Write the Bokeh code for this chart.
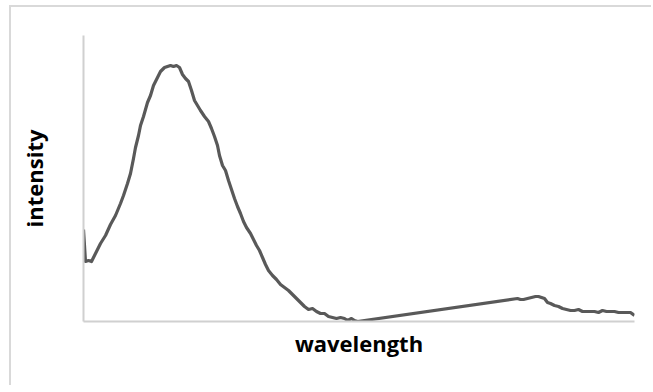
from bokeh.plotting import figure
from bokeh.models import Range1d, FixedTicker
from bokeh.embed import file_html
from bokeh.resources import INLINE

# wavelength (arbitrary nm) and intensity (a.u.)
wavelength = [350, 352, 355, 358, 362, 367, 372, 377, 382, 387, 390, 394, 397, 400, 402,
              405, 407, 410, 414, 417, 420, 424, 427, 431, 434, 437, 440, 443, 446, 449,
              452, 455, 458, 461, 464, 467, 471, 475, 478, 481, 484, 486, 489, 492, 495,
              498, 501, 504, 507, 510, 513, 517, 520, 523, 526, 529, 532, 535, 539, 543,
              547, 551, 555, 559, 563, 567, 571, 575, 579, 583, 587, 591, 595, 599, 603,
              607, 611, 614, 618, 621, 624,
              784, 787, 790, 794, 798, 802, 805, 808, 811, 814, 817, 821, 825, 829, 833,
              837, 841, 845, 849, 853, 857, 861, 865, 869, 873, 877, 881, 885, 889, 893,
              897, 901]
intensity = [92, 60, 61, 60, 68, 78, 86, 97, 106, 118, 126, 138, 148, 163, 174,
             186, 196, 205, 219, 226, 236, 244, 250, 254, 255, 256, 255, 256, 254, 247,
             243, 240, 231, 221, 216, 211, 205, 200, 193, 185, 176, 166, 156, 151, 141,
             132, 123, 115, 108, 100, 94, 88, 82, 76, 71, 64, 57, 51, 46, 42,
             37, 34, 31, 27, 23, 19, 15, 12, 13, 10, 8, 8, 5, 4, 3,
             4, 3, 1, 3, 1, 0,
             23, 22, 22, 23, 24, 25, 25, 24, 23, 19, 18, 16, 15, 13, 12,
             11, 11, 12, 10, 10, 10, 10, 9, 11, 10, 10, 10, 9, 9, 9,
             9, 6]

x_label = "wavelength"
y_label = "intensity"

p = figure(width=642, height=380, output_backend="svg", toolbar_location=None,
           x_range=Range1d(350, 901), y_range=Range1d(0, 286),
           min_border_left=72, min_border_right=19, min_border_top=28, min_border_bottom=66,
           styles={"margin-left": "9px", "margin-top": "5px",
                   "border-left": "2px solid #d9d9d9", "border-top": "2px solid #d9d9d9"})
p.outline_line_color = None
p.grid.visible = False
p.background_fill_color = "white"
p.border_fill_color = "white"

for ax in (p.xaxis, p.yaxis):
    ax.ticker = FixedTicker(ticks=[])
    ax.major_tick_line_color = None
    ax.minor_tick_line_color = None
    ax.major_label_text_font_size = "0px"
    ax.axis_line_color = "#d0d0d0"
    ax.axis_line_width = 2
    ax.axis_label_text_font = "Open Sans"
    ax.axis_label_text_font_style = "bold"
    ax.axis_label_text_font_size = "22px"
    ax.axis_label_text_color = "#000000"

p.xaxis.axis_label = x_label
p.yaxis.axis_label = y_label
p.xaxis.axis_label_standoff = 6
p.yaxis.axis_label_standoff = 35

p.line(wavelength, intensity, line_color="#595959", line_width=3.2, line_join="round")

open("out.html", "w").write(file_html(p, INLINE))
